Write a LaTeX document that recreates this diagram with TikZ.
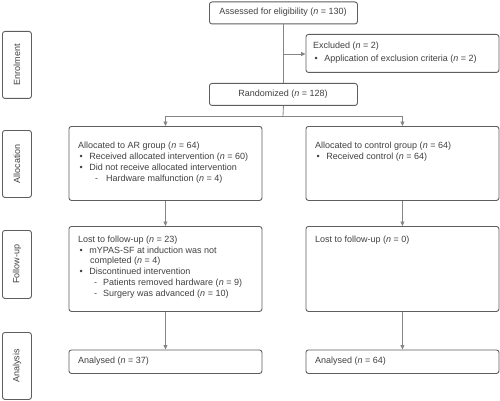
\documentclass[tikz,border=0pt]{standalone}
\usepackage{fontspec}
\setmainfont{Liberation Sans}
\usetikzlibrary{arrows.meta}
\definecolor{boxc}{HTML}{5E5E5E}
\definecolor{linec}{HTML}{858585}
\definecolor{txtc}{HTML}{404040}
\newcommand{\nn}{\textit{n}}
\begin{document}
\begin{tikzpicture}[x=1pt,y=-1pt,
  box/.style={draw=boxc,line width=0.9pt,rounded corners=2.5pt,inner sep=0pt,anchor=north west},
  lbl/.style={font=\fontsize{9}{10.8}\selectfont,text=txtc,inner sep=0pt,anchor=base west},
  clbl/.style={font=\fontsize{9}{10.8}\selectfont,text=txtc,inner sep=0pt,anchor=base},
  side/.style={font=\fontsize{9}{10.8}\selectfont,text=txtc,inner sep=0pt,rotate=90},
  conn/.style={draw=linec,line width=0.8pt},
  arr/.style={conn,-{Triangle[length=4.5pt,width=4pt]}}]
\useasboundingbox (0,0) rectangle (500,401);
% side boxes
\node[box,minimum width=29pt,minimum height=67pt] (senr) at (2,31) {};
\node[side] (tenr) at (senr.center) {Enrolment};
\node[box,minimum width=29pt,minimum height=67pt] (salloc) at (2,130) {};
\node[side] (talloc) at (salloc.center) {Allocation};
\node[box,minimum width=29pt,minimum height=68pt] (sfol) at (2,230) {};
\node[side] (tfol) at (sfol.center) {Follow-up};
\node[box,minimum width=29pt,minimum height=67pt] (sana) at (2,332) {};
\node[side] (tana) at (sana.center) {Analysis};
% main boxes
\node[box,minimum width=148pt,minimum height=22pt] (assess) at (209,1.5) {};
\node[clbl] (tassess) at (283,14.5) {Assessed for eligibility (\nn{} = 130)};
\node[box,minimum width=193pt,minimum height=38pt] (excl) at (305.5,34) {};
\node[lbl] (texcl1) at (313,48.3) {Excluded (\nn{} = 2)};
\node[lbl] (texcl2) at (314.5,61.3) {•\hspace{6.5pt}Application of exclusion criteria (\nn{} = 2)};
\node[box,minimum width=148pt,minimum height=22pt] (rand) at (209,83) {};
\node[clbl] (trand) at (283,96) {Randomized (\nn{} = 128)};
\node[box,minimum width=193pt,minimum height=74pt] (allocL) at (68.5,126) {};
\node[lbl] (tal1) at (78,148.7) {Allocated to AR group (\nn{} = 64)};
\node[lbl] (tal2) at (79.5,159.3) {•\hspace{6.5pt}Received allocated intervention (\nn{} = 60)};
\node[lbl] (tal3) at (79.5,170) {•\hspace{6.5pt}Did not receive allocated intervention};
\node[lbl] (tal4) at (95,181) {-\hspace{8pt}Hardware malfunction (\nn{} = 4)};
\node[box,minimum width=193pt,minimum height=74pt] (allocR) at (305.5,126) {};
\node[lbl] (tar1) at (315,148.7) {Allocated to control group (\nn{} = 64)};
\node[lbl] (tar2) at (316.5,159.3) {•\hspace{6.5pt}Received control (\nn{} = 64)};
\node[box,minimum width=193pt,minimum height=85pt] (folL) at (68.5,226) {};
\node[lbl] (tfl1) at (78,242) {Lost to follow-up (\nn{} = 23)};
\node[lbl] (tfl2) at (79.5,253) {•\hspace{6.5pt}mYPAS-SF at induction was not};
\node[lbl] (tfl3) at (90,263.7) {completed (\nn{} = 4)};
\node[lbl] (tfl4) at (79.5,274.7) {•\hspace{6.5pt}Discontinued intervention};
\node[lbl] (tfl5) at (94,285.7) {-\hspace{6pt}Patients removed hardware (\nn{} = 9)};
\node[lbl] (tfl6) at (94,296.7) {-\hspace{6pt}Surgery was advanced (\nn{} = 10)};
\node[box,minimum width=193pt,minimum height=85pt] (folR) at (305.5,226) {};
\node[lbl] (tfr1) at (315,242) {Lost to follow-up (\nn{} = 0)};
\node[box,minimum width=193pt,minimum height=23.5pt] (anaL) at (68.5,349.5) {};
\node[lbl] (tanl) at (78,363) {Analysed (\nn{} = 37)};
\node[box,minimum width=193pt,minimum height=23.5pt] (anaR) at (305.5,349.5) {};
\node[lbl] (tanr) at (315,363) {Analysed (\nn{} = 64)};
% connectors
\coordinate (br) at (283,54);
\coordinate (split) at (283,116);
\draw[conn] (assess.south) -- (rand.north);
\draw[arr] (br) -- (excl.west |- br);
\draw[conn] (rand.south) -- (split);
\draw[arr] (split) -| (allocL.north);
\draw[arr] (split) -| (allocR.north);
\draw[arr] (allocL.south) -- (folL.north);
\draw[arr] (allocR.south) -- (folR.north);
\draw[arr] (folL.south) -- (anaL.north);
\draw[arr] (folR.south) -- (anaR.north);
\end{tikzpicture}
\end{document}
